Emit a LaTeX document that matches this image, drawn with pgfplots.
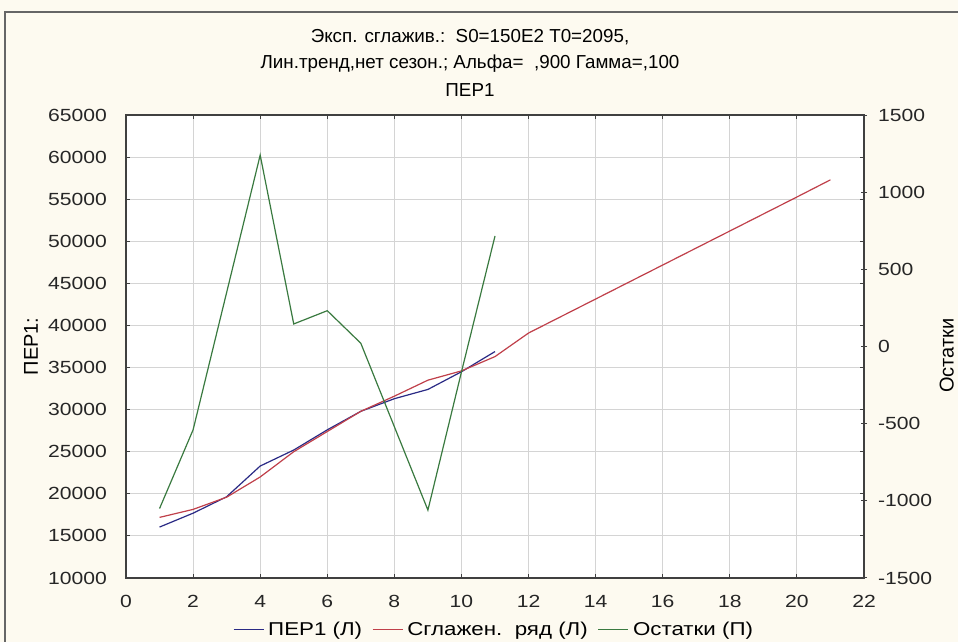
\documentclass[border=0pt]{standalone}
\usepackage{fontspec}
\setmainfont{Liberation Sans}
\newfontfamily\widefont{Liberation Sans}[FakeStretch=1.2]
\usepackage{pgfplots}
\pgfplotsset{compat=1.18}
\definecolor{bg}{HTML}{FDFAF0}
\definecolor{serblue}{HTML}{2A2A85}
\definecolor{serred}{HTML}{C0404A}
\definecolor{sergreen}{HTML}{3A7A40}
\definecolor{gridc}{HTML}{D4D4D4}
\definecolor{axc}{HTML}{404040}
\begin{document}
\begin{tikzpicture}
\fill[bg] (0,0) rectangle (479pt,321pt);
\draw[gray!80!black, line width=0.6pt] (2.5pt,-5pt) rectangle (485pt,315pt);
\node[font=\fontsize{9.4}{12}\selectfont] at (235pt,302.5pt) {Эксп. сглажив.:\ \ S0=150E2 T0=2095,};
\node[font=\fontsize{9.4}{12}\selectfont] at (235pt,289pt) {Лин.тренд,нет сезон.; Альфа=\ \ ,900 Гамма=,100};
\node[font=\fontsize{9.4}{12}\selectfont] at (235pt,276pt) {ПЕР1};
\begin{axis}[
  at={(63pt,32pt)}, anchor=south west,
  scale only axis, width=369pt, height=231.5pt,
  xmin=0, xmax=22, ymin=10000, ymax=65000,
  xtick={0,2,...,22}, ytick={10000,15000,...,65000},
  scaled y ticks=false,
  /pgf/number format/assume math mode=true,
  /pgf/number format/1000 sep={},
  grid=major, major grid style={gridc, line width=0.5pt},
  axis line style={axc, line width=0.6pt},
  major tick length=2pt, tick style={axc, line width=0.5pt},
  axis background/.style={fill=white},
  ticklabel style={font=\widefont\fontsize{8.8}{11}\selectfont, text=black!85},
  xticklabel style={yshift=-5pt},
  yticklabel style={xshift=-6pt},
  ylabel={ПЕР1:},
  ylabel style={at={(axis description cs:-0.1287,0.5)}, anchor=center, font=\fontsize{10}{12}\selectfont},
]
\addplot[serblue, line width=0.6pt] coordinates {(1,16050)(2,17700)(3,19650)(4,23300)(5,25200)(6,27600)(7,29800)(8,31300)(9,32400)(10,34500)(11,36900)};
\addplot[serred, line width=0.6pt] coordinates {(1,17200)(2,18150)(3,19600)(4,22000)(5,25000)(6,27400)(7,29800)(8,31600)(9,33500)(10,34600)(11,36300)(12,39100)(13,41120)(14,43140)(15,45160)(16,47180)(17,49200)(18,51220)(19,53240)(20,55260)(21,57300)};
\end{axis}
\begin{axis}[
  at={(63pt,32pt)}, anchor=south west,
  scale only axis, width=369pt, height=231.5pt,
  xmin=0, xmax=22, ymin=-1500, ymax=1500,
  axis x line=none, axis y line*=right,
  ytick={-1500,-1000,...,1500},
  /pgf/number format/assume math mode=true,
  /pgf/number format/1000 sep={},
  axis line style={axc, line width=0.6pt},
  major tick length=3pt, tick style={axc, line width=0.5pt},
  ytick align=center,
  ticklabel style={font=\widefont\fontsize{8.8}{11}\selectfont, text=black!85},
  yticklabel style={xshift=2pt},
  ylabel={Остатки},
  ylabel style={at={(axis description cs:1.112,0.48)}, anchor=center, rotate=0, font=\fontsize{10}{12}\selectfont},
  legend columns=-1,
  legend style={at={(0.5,-0.112)}, anchor=center, draw=none, fill=none, font=\widefont\fontsize{9.3}{12}\selectfont, /tikz/every even column/.append style={column sep=3pt}},
  legend image code/.code={\draw[#1] (0pt,0pt) -- (15pt,0pt);},
]
\addlegendimage{serblue, line width=0.6pt}
\addlegendentry{ПЕР1 (Л)}
\addlegendimage{serred, line width=0.6pt}
\addlegendentry{Сглажен.\ \ ряд (Л)}
\addplot[sergreen, line width=0.6pt] coordinates {(1,-1050)(2,-540)(3,350)(4,1240)(5,146)(6,232)(7,21)(8,-520)(9,-1060)(10,-165)(11,716)};
\addlegendentry{Остатки (П)}
\end{axis}
\pgfresetboundingbox
\path[use as bounding box] (0,0) rectangle (479pt,321pt);
\end{tikzpicture}
\end{document}
